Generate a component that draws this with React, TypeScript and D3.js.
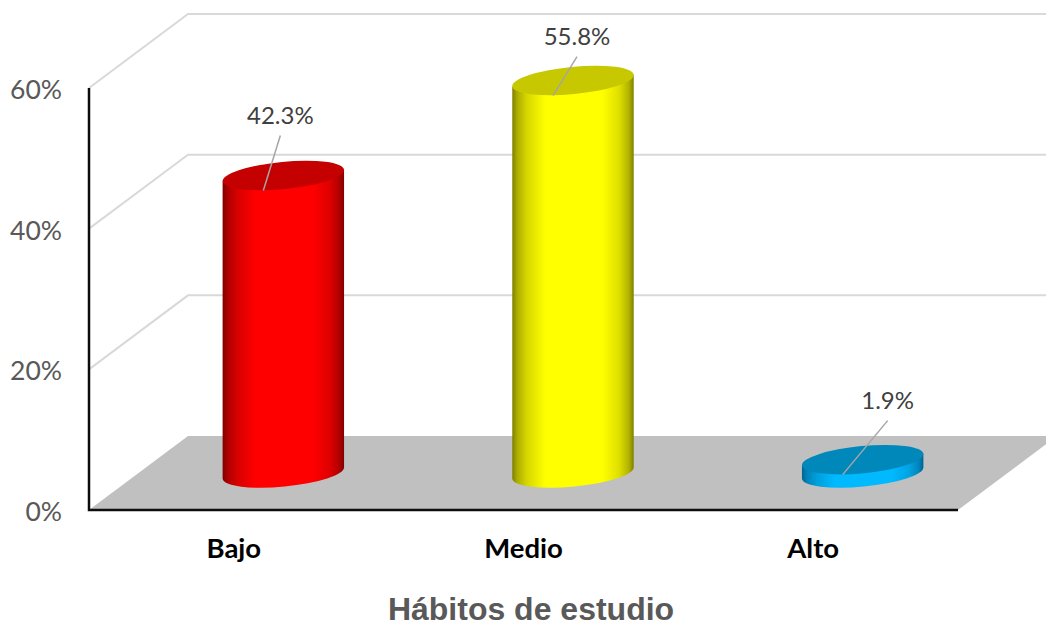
import React, { useEffect, useRef } from 'react'
import * as d3 from 'd3'

const categories = ['Bajo', 'Medio', 'Alto']
const values = [42.3, 55.8, 1.9]
const valueLabels = ['42.3%', '55.8%', '1.9%']
const yTicks = [0, 20, 40, 60]
const axisTitle = 'Hábitos de estudio'

const sideColors = [
  ['#7f0000', '#ff0000'],
  ['#7f7f00', '#ffff00'],
  ['#00648f', '#00b9ff'],
]
const topColors = ['#c40000', '#c8c800', '#0088bb']

const W = 1046, H = 621
const depthX = 99, depthY = 74
const rx = 61, ry = 13.6, tilt = 5.5

// where the callouts sit relative to the top of each cylinder
const labelDx = [-3, 4, 25]
const labelDy = [-61, -45, -60]

// side shading: offset across the cylinder, amount of light
const shade = [[0, 0], [0.04, 0.35], [0.12, 0.68], [0.27, 1], [0.74, 1], [0.88, 0.75], [0.96, 0.4], [1, 0]]

export default function App() {
  const svgRef = useRef<SVGSVGElement>(null)

  useEffect(() => {
    const svg = d3.select(svgRef.current)
    svg.selectAll('*').remove()

    const y = d3.scaleLinear().domain([0, 60]).range([510, 88])
    const x = d3.scaleBand().domain(categories).range([89, 958])
    const left = x.range()[0], right = x.range()[1]

    const defs = svg.append('defs')
    sideColors.forEach((c, i) => {
      const mix = d3.interpolateRgb(c[0], c[1])
      const g = defs.append('linearGradient').attr('id', `side${i}`).attr('x1', 0).attr('x2', 1).attr('y1', 0).attr('y2', 0)
      shade.forEach(s => g.append('stop').attr('offset', s[0]).attr('stop-color', mix(s[1])))
    })

    // floor
    svg.append('polygon')
      .attr('points', [[left, y(0)], [left + depthX, y(0) - depthY], [right + depthX, y(0) - depthY], [right, y(0)]].join(' '))
      .attr('fill', '#c0c0c0')

    // walls
    yTicks.filter(t => t > 0).forEach(t => {
      svg.append('polyline')
        .attr('points', [[left, y(t)], [left + depthX, y(t) - depthY], [right + depthX, y(t) - depthY]].join(' '))
        .attr('fill', 'none').attr('stroke', '#d9d9d9').attr('stroke-width', 2)
    })

    // axis lines
    svg.append('polyline')
      .attr('points', [[left, y(60)], [left, y(0)], [right, y(0)]].join(' '))
      .attr('fill', 'none').attr('stroke', '#0d0d0d').attr('stroke-width', 2.5)

    const yAxis = d3.axisLeft(y).tickValues(yTicks).tickFormat(d => `${d}%`).tickSize(0).tickPadding(27)
    const yG = svg.append('g').attr('transform', `translate(${left},2)`).call(yAxis)
    yG.select('.domain').remove()
    yG.selectAll('text').attr('font-family', 'Lato').attr('font-size', 26.5).attr('fill', '#595959')

    const xAxis = d3.axisBottom(x).tickSize(0).tickPadding(28)
    const xG = svg.append('g').attr('transform', `translate(0,${y(0)})`).call(xAxis)
    xG.select('.domain').remove()
    xG.selectAll('text').attr('font-family', 'Lato').attr('font-size', 27.5).attr('font-weight', 700).attr('fill', '#000')

    svg.append('text').attr('x', (left + right) / 2 + 7.5).attr('y', 620)
      .attr('text-anchor', 'middle').attr('font-family', 'Liberation Sans').attr('font-weight', 700)
      .attr('font-size', 32).attr('fill', '#595959').text(axisTitle)

    // cylinders
    const rad = tilt * Math.PI / 180
    const ex = rx * Math.cos(rad), ey = rx * Math.sin(rad)
    categories.forEach((c, i) => {
      const cx = x(c)! + x.bandwidth() / 2 + depthX / 2
      const top = y(values[i]) - depthY / 2
      const base = y(0) - depthY / 2
      const g = svg.append('g')
      g.append('path')
        .attr('d', `M${cx - ex},${top + ey} L${cx - ex},${base + ey} A${rx},${ry} ${-tilt} 0 0 ${cx + ex},${base - ey} L${cx + ex},${top - ey} Z`)
        .attr('fill', `url(#side${i})`)
      g.append('ellipse')
        .attr('rx', rx).attr('ry', ry)
        .attr('transform', `translate(${cx},${top}) rotate(${-tilt})`)
        .attr('fill', topColors[i])

      const lx = cx + labelDx[i], ly = top + labelDy[i]
      g.append('line')
        .attr('x1', lx).attr('y1', ly + 21)
        .attr('x2', cx - 20).attr('y2', top + 15)
        .attr('stroke', '#a6a6a6').attr('stroke-width', 1.5)
      g.append('text').attr('x', lx).attr('y', ly + 9.5)
        .attr('text-anchor', 'middle').attr('font-family', 'Lato').attr('font-size', 24).attr('fill', '#404040')
        .text(valueLabels[i])
    })
  }, [])

  return <svg ref={svgRef} width={W} height={H} viewBox={`0 0 ${W} ${H}`} style={{ position: 'absolute', left: 0, top: 0, background: '#fff' }} />
}
